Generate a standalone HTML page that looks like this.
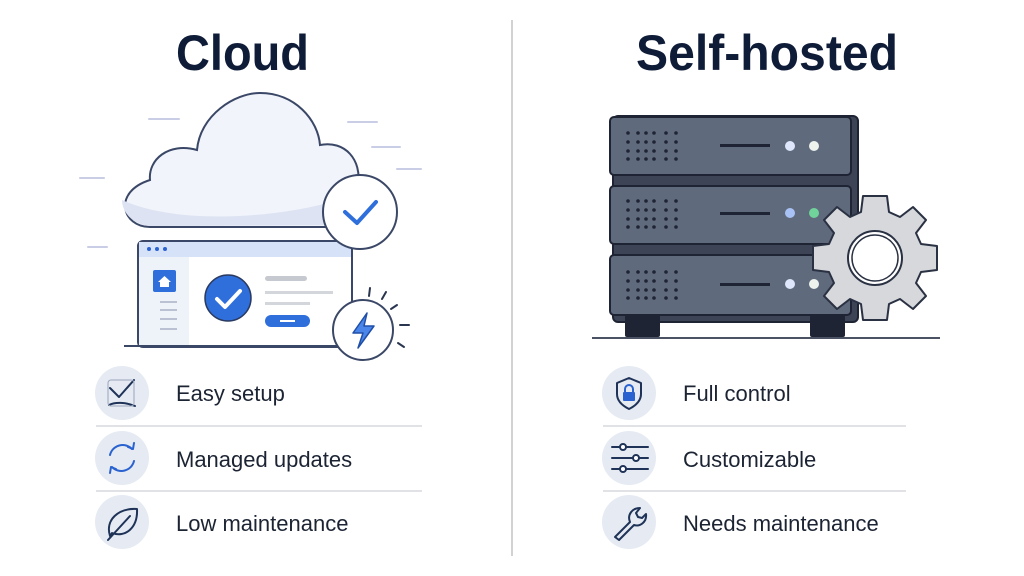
<!DOCTYPE html>
<html><head><meta charset="utf-8"><style>
html,body{margin:0;padding:0;background:#fff;}
svg{display:block;}
text{font-family:"Liberation Sans",sans-serif;}
</style></head><body>
<svg width="1024" height="576" viewBox="0 0 1024 576" xmlns="http://www.w3.org/2000/svg">
<rect width="1024" height="576" fill="#fff"/>
<text x="176" y="70" font-size="50" font-weight="bold" fill="#0f1c38" textLength="133" lengthAdjust="spacingAndGlyphs">Cloud</text>
<text x="636" y="70" font-size="50" font-weight="bold" fill="#0f1c38" textLength="262" lengthAdjust="spacingAndGlyphs">Self-hosted</text>
<line x1="512" y1="20" x2="512" y2="556" stroke="#c4c4c4" stroke-width="1.5"/>

<g stroke="#c9cde6" stroke-width="2" stroke-linecap="round">
<line x1="149" y1="119" x2="179" y2="119"/><line x1="348" y1="122" x2="377" y2="122"/>
<line x1="372" y1="147" x2="400" y2="147"/><line x1="397" y1="169" x2="421" y2="169"/>
<line x1="80" y1="178" x2="104" y2="178"/><line x1="88" y1="247" x2="107" y2="247"/>
</g>
<!-- cloud -->
<path d="M150,227 C122,227 112,192 150,180 C148,160 168,142 197,150 C200,115 235,93 260,93 C295,93 318,120 320,145 C345,140 362,160 358,185 L358,227 Z" fill="#f1f4fb" stroke="#3a4766" stroke-width="2"/>
<path d="M122,200 C170,222 260,222 340,200 L352,225 L150,226 C132,224 122,212 122,200Z" fill="#dde3f2"/>
<!-- browser -->
<rect x="138" y="241" width="214" height="106" rx="5" fill="#fff" stroke="#3a4766" stroke-width="2"/>
<rect x="139" y="242" width="212" height="15" fill="#d6e2f8"/>
<rect x="139" y="257" width="50" height="89" fill="#eef2f9"/>
<circle cx="149" cy="249" r="2" fill="#2a62d0"/><circle cx="157" cy="249" r="2" fill="#2a62d0"/><circle cx="165" cy="249" r="2" fill="#2a62d0"/>
<rect x="153" y="270" width="23" height="22" rx="2" fill="#2f6fdc"/>
<path d="M158,282 L164.5,276 L171,282 L169,282 L169,287 L160,287 L160,282Z" fill="#fff"/>
<g stroke="#b9c1d2" stroke-width="2"><line x1="160" y1="302" x2="177" y2="302"/><line x1="160" y1="310" x2="177" y2="310"/><line x1="160" y1="319" x2="177" y2="319"/><line x1="160" y1="329" x2="177" y2="329"/></g>
<rect x="265" y="276" width="42" height="5" rx="2.5" fill="#c6c9cf"/>
<rect x="265" y="291" width="68" height="3" fill="#d3d6db"/>
<rect x="265" y="302" width="45" height="3" fill="#d3d6db"/>
<rect x="265" y="315" width="45" height="12" rx="6" fill="#2f6fdc"/>
<line x1="280" y1="321" x2="295" y2="321" stroke="#fff" stroke-width="2"/>
<circle cx="228" cy="298" r="23" fill="#2f6fdc" stroke="#2a3a60" stroke-width="1.5"/>
<path d="M217,299 L225,307 L240,291" fill="none" stroke="#fff" stroke-width="4" stroke-linecap="round" stroke-linejoin="round"/>
<line x1="124" y1="346" x2="345" y2="346" stroke="#3a4766" stroke-width="2"/>
<circle cx="360" cy="212" r="37" fill="#fff" stroke="#3a4766" stroke-width="2"/>
<path d="M345,212 L357,223 L376,202" fill="none" stroke="#2f6fdc" stroke-width="4" stroke-linecap="round" stroke-linejoin="round"/>
<circle cx="363" cy="330" r="30" fill="#fff" stroke="#3a4766" stroke-width="2"/>
<path d="M367,313 L353,333 L363,333 L358,348 L374,326 L364,326 Z" fill="#4a86ea" stroke="#1f4fa8" stroke-width="1.5" stroke-linejoin="round"/>
<g stroke="#2a3550" stroke-width="2" stroke-linecap="round"><line x1="370" y1="288" x2="369" y2="296"/><line x1="386" y1="292" x2="382" y2="299"/><line x1="397" y1="305" x2="391" y2="309"/><line x1="400" y1="325" x2="409" y2="325"/><line x1="398" y1="343" x2="404" y2="347"/></g>

<!-- server -->
<rect x="613" y="116" width="245" height="206" rx="5" fill="#3c4456" stroke="#1e2433" stroke-width="2"/>
<g stroke="#1e2433" stroke-width="2">
<rect x="610" y="117" width="241" height="58" rx="4" fill="#5f6a7d"/>
<rect x="610" y="186" width="241" height="58" rx="4" fill="#5f6a7d"/>
<rect x="610" y="255" width="241" height="60" rx="4" fill="#5f6a7d"/>
</g>
<g fill="#1e2433">
<rect x="625" y="315" width="35" height="22" rx="2"/><rect x="810" y="315" width="35" height="22" rx="2"/>
</g>
<g id="grill" fill="#1e2433">
<circle cx="628" cy="133" r="1.8"/><circle cx="638" cy="133" r="1.8"/><circle cx="646" cy="133" r="1.8"/><circle cx="654" cy="133" r="1.8"/><circle cx="666" cy="133" r="1.8"/><circle cx="676" cy="133" r="1.8"/>
<circle cx="628" cy="142" r="1.8"/><circle cx="638" cy="142" r="1.8"/><circle cx="646" cy="142" r="1.8"/><circle cx="654" cy="142" r="1.8"/><circle cx="666" cy="142" r="1.8"/><circle cx="676" cy="142" r="1.8"/>
<circle cx="628" cy="151" r="1.8"/><circle cx="638" cy="151" r="1.8"/><circle cx="646" cy="151" r="1.8"/><circle cx="654" cy="151" r="1.8"/><circle cx="666" cy="151" r="1.8"/><circle cx="676" cy="151" r="1.8"/>
<circle cx="628" cy="159" r="1.8"/><circle cx="638" cy="159" r="1.8"/><circle cx="646" cy="159" r="1.8"/><circle cx="654" cy="159" r="1.8"/><circle cx="666" cy="159" r="1.8"/><circle cx="676" cy="159" r="1.8"/>
<rect x="720" y="144" width="50" height="3"/>
</g>
<use href="#grill" y="68"/><use href="#grill" y="139"/>
<circle cx="790" cy="146" r="5" fill="#dde6fb"/><circle cx="814" cy="146" r="5" fill="#eef3ee"/>
<circle cx="790" cy="213" r="5" fill="#a9c2f5"/><circle cx="814" cy="213" r="5" fill="#6fd39a"/>
<circle cx="790" cy="284" r="5" fill="#dde6fb"/><circle cx="814" cy="284" r="5" fill="#eef3ee"/>
<line x1="592" y1="338" x2="940" y2="338" stroke="#4a5264" stroke-width="2"/>
<!-- gear -->
<g transform="translate(875,258)">
<path d="M-12,-62 L12,-62 L14,-46 L25,-41 L38,-51 L51,-38 L41,-25 L46,-14 L62,-12 L62,12 L46,14 L41,25 L51,38 L38,51 L25,41 L14,46 L12,62 L-12,62 L-14,46 L-25,41 L-38,51 L-51,38 L-41,25 L-46,14 L-62,12 L-62,-12 L-46,-14 L-41,-25 L-51,-38 L-38,-51 L-25,-41 L-14,-46 Z" fill="#d6d8dc" stroke="#2a3142" stroke-width="2" stroke-linejoin="round"/>
<circle r="27" fill="#fff" stroke="#2a3142" stroke-width="2"/>
<circle r="23" fill="#fff" stroke="#2a3142" stroke-width="1.5"/>
</g>

<!-- lists -->
<g stroke="#d6d9de" stroke-width="1.5"><line x1="96" y1="426" x2="422" y2="426"/><line x1="96" y1="491" x2="422" y2="491"/><line x1="603" y1="426" x2="906" y2="426"/><line x1="603" y1="491" x2="906" y2="491"/></g>
<g fill="#e6ebf3"><circle cx="122" cy="393" r="27"/><circle cx="122" cy="458" r="27"/><circle cx="122" cy="522" r="27"/><circle cx="629" cy="393" r="27"/><circle cx="629" cy="458" r="27"/><circle cx="629" cy="522" r="27"/></g>
<g fill="none" stroke="#1f3358" stroke-width="2" stroke-linecap="round" stroke-linejoin="round">
<path d="M110,388 L119,397 L134,380"/><path d="M109,405 C115,402 125,402 135,406"/><rect x="108" y="380" width="26" height="26" rx="3" stroke="#9aa6bb" stroke-width="1"/>
<path d="M110,455 A13,13 0 0 1 132,449" stroke="#2a62d0"/><path d="M134,461 A13,13 0 0 1 112,467" stroke="#2a62d0"/>
<path d="M128,447 L133,449 L134,443" stroke="#2a62d0"/><path d="M116,469 L111,467 L110,473" stroke="#2a62d0"/>
<path d="M110,536 C105,520 118,508 137,509 C138,528 125,538 112,533 Z"/><line x1="108" y1="540" x2="130" y2="516"/>
<path d="M629,378 L641,383 L641,394 C641,401 635,406 629,409 C623,406 617,401 617,394 L617,383 Z"/>
<line x1="612" y1="447" x2="648" y2="447"/><line x1="612" y1="458" x2="648" y2="458"/><line x1="612" y1="469" x2="648" y2="469"/>
<path d="M615,537 L630,522 C627,515 632,508 640,508 L636,513 L638,517 L642,518 L646,514 C647,522 640,527 634,525 L619,540 Z"/>
</g>
<rect x="623" y="392" width="12" height="9" rx="1" fill="#2a62d0"/><path d="M625,392 L625,389 A4,4 0 0 1 633,389 L633,392" fill="none" stroke="#2a62d0" stroke-width="2"/>
<g fill="#fff" stroke="#1f3358" stroke-width="2"><circle cx="623" cy="447" r="3"/><circle cx="636" cy="458" r="3"/><circle cx="623" cy="469" r="3"/></g>
<g font-size="22" fill="#1c2433">
<text x="176" y="401">Easy setup</text>
<text x="176" y="467">Managed updates</text>
<text x="176" y="531">Low maintenance</text>
<text x="683" y="401">Full control</text>
<text x="683" y="467">Customizable</text>
<text x="683" y="531">Needs maintenance</text>
</g>
</svg>
</body></html>
